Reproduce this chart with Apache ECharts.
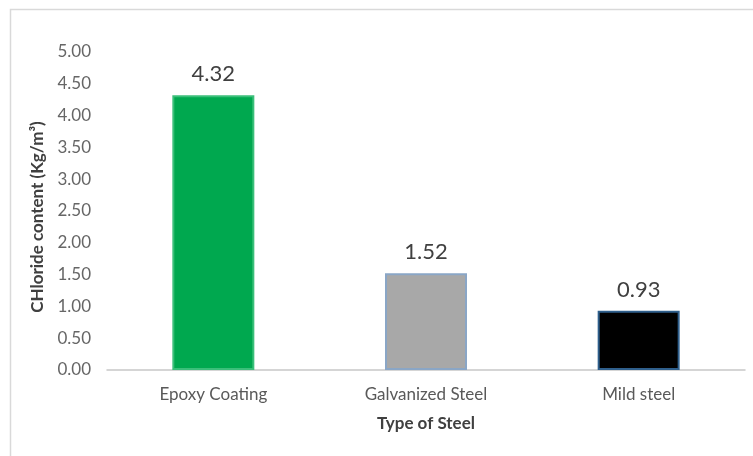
<!DOCTYPE html>
<html>
<head>
<meta charset="utf-8">
<script src="https://cdn.jsdelivr.net/npm/echarts@6/dist/echarts.min.js"></script>
<style>
  html, body { margin: 0; padding: 0; background: #fff; }
  #chart { width: 753px; height: 456px; }
</style>
</head>
<body>
<div id="chart"></div>
<script>
// data
var steelTypes = ['Epoxy Coating', 'Galvanized Steel', 'Mild steel'];
var chlorideValues = [4.32, 1.52, 0.93];
var barFills = ['#00a84f', '#a8a8a8', '#000000'];
var barBorders = ['#3bbf7a', '#8aa6c6', '#2f5f8c'];

var chart = echarts.init(document.getElementById('chart'));
var font = 'Lato, sans-serif';

function getOption() {
    return {
        animation: false,
        graphic: [
            {
                type: 'polyline',
                shape: { points: [[10.5, 456], [10.5, 9.5], [753, 9.5]] },
                style: { stroke: '#d9d9d9', lineWidth: 1.5, fill: null }
            }
        ],
        grid: {
            left: 107,
            right: 8,
            top: 52,
            bottom: 86
        },
        xAxis: {
            type: 'category',
            data: steelTypes,
            name: 'Type of Steel',
            nameLocation: 'middle',
            nameGap: 45,
            nameTextStyle: { fontFamily: font, fontSize: 17, fontWeight: 'bold', color: '#404040' },
            axisLine: { lineStyle: { color: '#c8c8c8', width: 1.5 } },
            axisTick: { show: false },
            axisLabel: { fontFamily: font, fontSize: 17, color: '#595959', margin: 16 }
        },
        yAxis: {
            type: 'value',
            min: 0,
            max: 5,
            interval: 0.5,
            name: 'CHloride content (Kg/m³)',
            nameLocation: 'middle',
            nameGap: 57,
            nameTextStyle: { fontFamily: font, fontSize: 17, fontWeight: 'bold', color: '#404040', padding: [0, 12, 0, 0] },
            axisLine: { show: false },
            axisTick: { show: false },
            splitLine: { show: false },
            axisLabel: {
                fontFamily: font,
                fontSize: 17,
                color: '#666666',
                margin: 16,
                formatter: function (v) { return v.toFixed(2); }
            }
        },
        series: [
            {
                type: 'bar',
                barWidth: 82,
                data: chlorideValues.map(function (v, i) {
                    return {
                        value: v,
                        itemStyle: { color: barFills[i], borderColor: barBorders[i], borderWidth: 2 }
                    };
                }),
                label: {
                    show: true,
                    position: 'top',
                    distance: 10,
                    fontFamily: font,
                    fontSize: 22,
                    color: '#404040',
                    formatter: function (p) { return p.value.toFixed(2); }
                }
            }
        ]
    };
}

chart.setOption(getOption());
window.addEventListener('resize', function () { chart.resize(); });
</script>
</body>
</html>
